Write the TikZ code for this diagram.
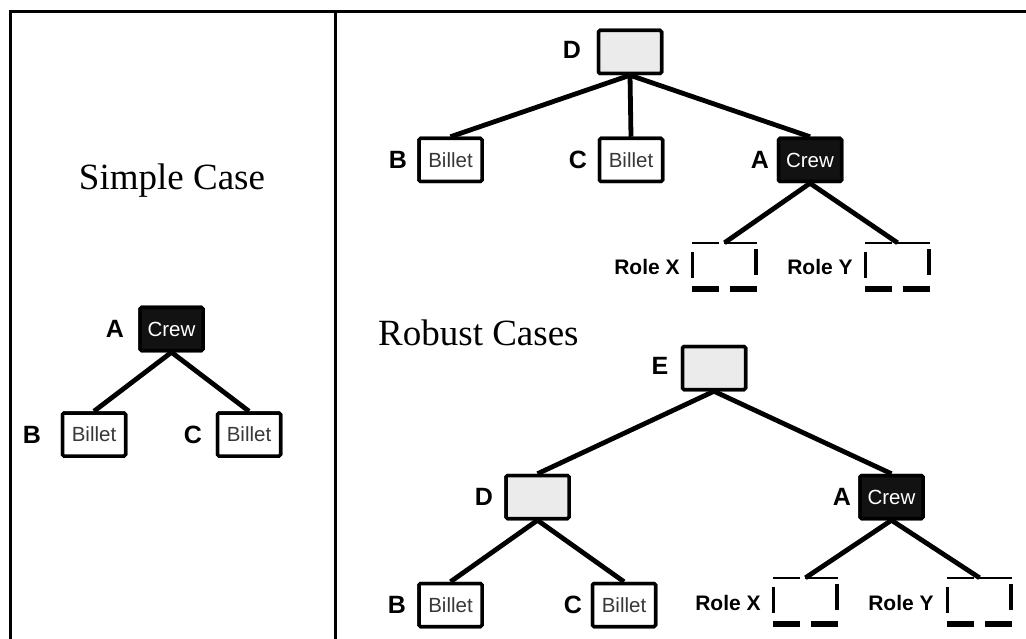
\documentclass[tikz,border=0pt]{standalone}
\usepackage{fontspec}
\setmainfont{Liberation Serif}
\setsansfont{Liberation Sans}
\newcommand{\roleframe}[1]{%
  \draw[line width=1.8pt] (#1.north west) -- ([xshift=27pt]#1.north west);
  \draw[line width=1.8pt] ([xshift=32pt]#1.north west) -- (#1.north east);
  \draw[line width=2.8pt] ([xshift=1pt,yshift=-9pt]#1.north west) -- ([xshift=1pt,yshift=11pt]#1.south west);
  \draw[line width=3.6pt] ([xshift=-1.5pt,yshift=-6pt]#1.north east) -- ([xshift=-1.5pt,yshift=14pt]#1.south east);
  \draw[line width=5.5pt] (#1.south west) -- ([xshift=27pt]#1.south west);
  \draw[line width=5.5pt] ([xshift=38pt]#1.south west) -- (#1.south east);
}
\begin{document}
\begin{tikzpicture}[x=1pt,y=-1pt,
  box/.style={draw=black, line width=3.5pt, rounded corners=1.5pt, minimum width=63pt, minimum height=43pt, inner sep=0pt, font=\sffamily\fontsize{20.5}{20.5}\selectfont},
  billet/.style={box, fill=white, text=black!78},
  crew/.style={box, fill=black!93, text=white},
  greybox/.style={box, fill=black!8},
  lab/.style={font=\sffamily\bfseries\fontsize{25}{25}\selectfont, inner sep=0pt},
  rolebox/.style={minimum width=65pt, minimum height=46pt, inner sep=0pt},
  rolelab/.style={font=\sffamily\bfseries\fontsize{21}{21}\selectfont, inner sep=0pt},
  title/.style={font=\fontsize{37}{37}\selectfont, inner sep=0pt},
  edge/.style={line width=4.8pt},
  frame/.style={line width=3pt}
]
\useasboundingbox (0,0) rectangle (1026,639);
\clip (0,0) rectangle (1026,639);

% frame
\draw[frame] (10,660) -- (10,12) -- (1040,12);
\draw[frame] (335,12) -- (335,660);

% ---- Simple case ----
\node[title, anchor=base] (t1) at (172,190) {Simple Case};
\node[crew] (sA) at (171.5,329) {Crew};
\node[billet] (sB) at (94,434.5) {Billet};
\node[billet] (sC) at (249,434.5) {Billet};
\node[lab] (lsA) at (115,329) {A};
\node[lab] (lsB) at (32,434.5) {B};
\node[lab] (lsC) at (193,434.5) {C};
\draw[edge] (sA.south) -- (sB.north);
\draw[edge] (sA.south) -- (sC.north);

% ---- Robust case 1 ----
\node[greybox] (rD) at (630,52) {};
\node[billet] (rB) at (450.5,160) {Billet};
\node[billet] (rC) at (631,160) {Billet};
\node[crew] (rA) at (810,160) {Crew};
\node[rolebox] (rX) at (724.5,266) {};
\node[rolebox] (rY) at (897.5,266) {};
\node[lab] (lrD) at (572,50) {D};
\node[lab] (lrB) at (398,160) {B};
\node[lab] (lrC) at (578,160) {C};
\node[lab] (lrA) at (760,160) {A};
\node[rolelab] (lrX) at (647,267) {Role X};
\node[rolelab] (lrY) at (820,267) {Role Y};
\draw[edge] (rD.south) -- (rB.north);
\draw[edge] (rD.south) -- (rC.north);
\draw[edge] (rD.south) -- (rA.north);
\draw[edge] (rA.south) -- (rX.north);
\draw[edge] (rA.south) -- (rY.north);
\roleframe{rX}
\roleframe{rY}
\node[greybox] at (rD) {};
\node[crew] at (rA) {Crew};
\node[billet] at (rB) {Billet};
\node[billet] at (rC) {Billet};

% ---- Robust case 2 ----
\node[title, anchor=base west] (t2) at (378,345) {Robust Cases};
\node[greybox] (qE) at (714,368) {};
\node[greybox] (qD) at (537.5,497) {};
\node[crew] (qA) at (891.5,497) {Crew};
\node[billet] (qB) at (450.5,605) {Billet};
\node[billet] (qC) at (624,605) {Billet};
\node[rolebox] (qX) at (805.5,601) {};
\node[rolebox] (qY) at (979.5,601) {};
\node[lab] (lqE) at (660,366) {E};
\node[lab] (lqD) at (484,497) {D};
\node[lab] (lqA) at (842,497) {A};
\node[lab] (lqB) at (397,605) {B};
\node[lab] (lqC) at (573,605) {C};
\node[rolelab] (lqX) at (728,603) {Role X};
\node[rolelab] (lqY) at (901,603) {Role Y};
\draw[edge] (qE.south) -- (qD.north);
\draw[edge] (qE.south) -- (qA.north);
\draw[edge] (qD.south) -- (qB.north);
\draw[edge] (qD.south) -- (qC.north);
\draw[edge] (qA.south) -- (qX.north);
\draw[edge] (qA.south) -- (qY.north);
\roleframe{qX}
\roleframe{qY}
\node[greybox] at (qE) {};
\node[greybox] at (qD) {};
\node[crew] at (qA) {Crew};
\node[billet] at (qB) {Billet};
\node[billet] at (qC) {Billet};
% simple case boxes on top
\node[crew] at (sA) {Crew};
\node[billet] at (sB) {Billet};
\node[billet] at (sC) {Billet};
\end{tikzpicture}
\end{document}
